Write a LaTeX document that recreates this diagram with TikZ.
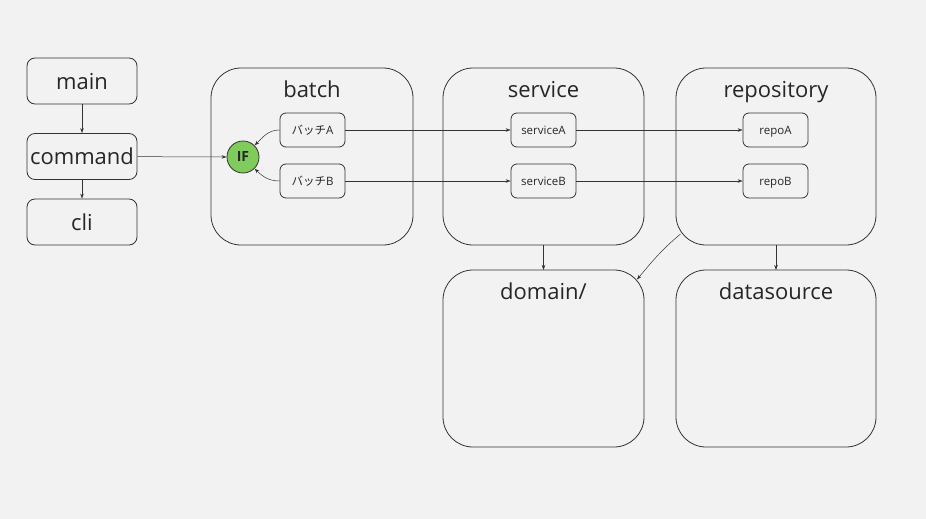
\documentclass[tikz,border=0pt]{standalone}
\usepackage{fontspec}
\setmainfont{Open Sans}
\newfontfamily\jpfont{Noto Sans CJK JP}
\usetikzlibrary{arrows.meta}
\definecolor{bg}{HTML}{F2F2F2}
\definecolor{ln}{HTML}{333333}
\definecolor{ifgreen}{HTML}{7FCB5B}
\begin{document}
\begin{tikzpicture}[x=1pt,y=-1pt,
  bigbox/.style={draw=ln,line width=0.8pt,rounded corners=30pt},
  topbox/.style={draw=ln,line width=0.8pt,rounded corners=8pt,minimum width=110pt,minimum height=46pt,inner sep=0pt,text height=16pt,text depth=0pt,font=\fontsize{22}{24}\selectfont,text=black!85},
  smallbox/.style={draw=ln,line width=0.8pt,rounded corners=6pt,minimum width=65pt,minimum height=34pt,inner sep=0pt,text height=9pt,text depth=0pt,font=\fontsize{11.5}{13}\selectfont,text=black!85},
  title/.style={font=\fontsize{22}{24}\selectfont,text=black!85,inner sep=0pt,anchor=base},
  arr/.style={draw=ln,line width=0.5pt,-{Stealth[length=5pt,width=3.5pt]}}]
\fill[bg] (0,0) rectangle (926,519);
\useasboundingbox (0,0) rectangle (926,519);
% left column
\node[topbox] (main) at (82,81) {main};
\node[topbox] (command) at (82,156.5) {command};
\node[topbox] (cli) at (82,222) {cli};
% big containers
\draw[bigbox] (211,68) rectangle (413,245);
\node[title] (batchT) at (312,97) {batch};
\draw[bigbox] (443,68) rectangle (644,245);
\node[title] (serviceT) at (543.5,97) {service};
\draw[bigbox] (676,68) rectangle (876,245);
\node[title] (repoT) at (776,97) {repository};
\draw[bigbox] (443,270) rectangle (644,447);
\node[title] (domainT) at (543.5,299) {domain/};
\draw[bigbox] (676,270) rectangle (876,447);
\node[title] (dsT) at (776,299) {datasource};
% anchors of containers
\coordinate (serviceBottom) at (543.5,245);
\coordinate (domainTop) at (543.5,270);
\coordinate (repoBottom) at (776,245);
\coordinate (dsTop) at (776,270);
\coordinate (repoCorner) at (680.5,234);
\coordinate (domainCorner) at (637,279.5);
% inner nodes
\node[circle,draw=ln,line width=0.8pt,fill=ifgreen,minimum size=32pt,inner sep=0pt,font=\fontsize{14}{16}\selectfont\bfseries,text=black!85] (IF) at (243,157) {IF};
\node[smallbox] (bA) at (312.5,130) {{\jpfont バッチ}A};
\node[smallbox] (bB) at (312.5,181) {{\jpfont バッチ}B};
\node[smallbox] (sA) at (543.5,130) {serviceA};
\node[smallbox] (sB) at (543.5,181) {serviceB};
\node[smallbox] (rA) at (775.5,130) {repoA};
\node[smallbox] (rB) at (775.5,181) {repoB};
% connectors
\draw[arr] (main) -- (command);
\draw[arr] (command) -- (cli);
\draw[arr] (command) -- (IF);
\draw[arr] (bA.west) to[out=180,in=45] (IF.45);
\draw[arr] (bB.west) to[out=180,in=-45] (IF.-45);
\draw[arr] (bA) -- (sA);
\draw[arr] (bB) -- (sB);
\draw[arr] (sA) -- (rA);
\draw[arr] (sB) -- (rB);
\draw[arr] (serviceBottom) -- (domainTop);
\draw[arr] (repoBottom) -- (dsTop);
\draw[arr] (repoCorner) to[out=-140,in=50] (domainCorner);
\end{tikzpicture}
\end{document}
